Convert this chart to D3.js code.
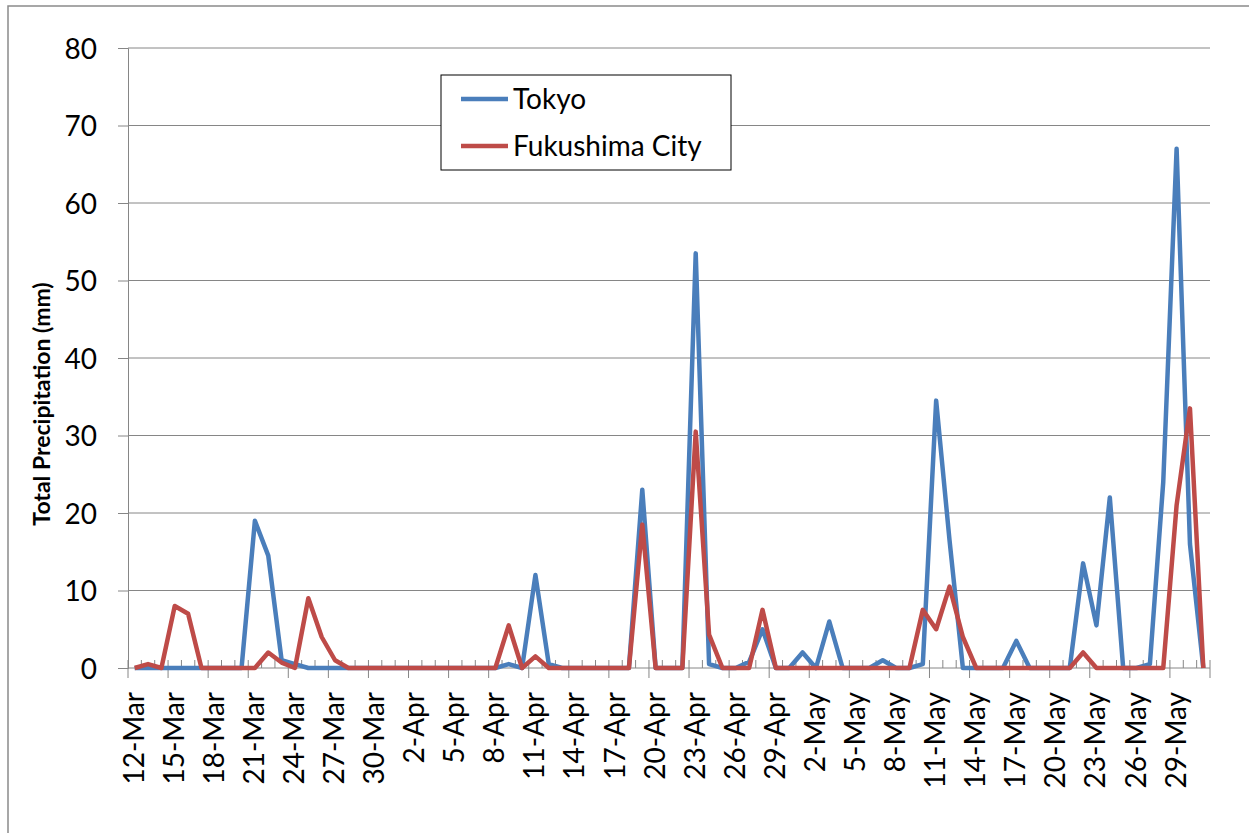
<!DOCTYPE html>
<html>
<head>
<meta charset="utf-8">
<script src="https://d3js.org/d3.v7.min.js"></script>
<style>
  html, body { margin: 0; padding: 0; background: #fff; }
  svg { display: block; }
</style>
</head>
<body>
<div id="chart"></div>
<script>
// Daily categories, 12-Mar to 31-May
const dates = [
  "12-Mar","13-Mar","14-Mar","15-Mar","16-Mar","17-Mar","18-Mar","19-Mar","20-Mar","21-Mar",
  "22-Mar","23-Mar","24-Mar","25-Mar","26-Mar","27-Mar","28-Mar","29-Mar","30-Mar","31-Mar",
  "1-Apr","2-Apr","3-Apr","4-Apr","5-Apr","6-Apr","7-Apr","8-Apr","9-Apr","10-Apr",
  "11-Apr","12-Apr","13-Apr","14-Apr","15-Apr","16-Apr","17-Apr","18-Apr","19-Apr","20-Apr",
  "21-Apr","22-Apr","23-Apr","24-Apr","25-Apr","26-Apr","27-Apr","28-Apr","29-Apr","30-Apr",
  "1-May","2-May","3-May","4-May","5-May","6-May","7-May","8-May","9-May","10-May",
  "11-May","12-May","13-May","14-May","15-May","16-May","17-May","18-May","19-May","20-May",
  "21-May","22-May","23-May","24-May","25-May","26-May","27-May","28-May","29-May","30-May",
  "31-May"
];

const tokyo = [
  0, 0, 0, 0, 0, 0, 0, 0, 0, 19,
  14.5, 1, 0.5, 0, 0, 0, 0, 0, 0, 0,
  0, 0, 0, 0, 0, 0, 0, 0, 0.5, 0,
  12, 0.5, 0, 0, 0, 0, 0, 0, 23, 0,
  0, 0, 53.5, 0.5, 0, 0, 0.8, 5, 0, 0,
  2, 0, 6, 0, 0, 0, 1, 0, 0, 0.5,
  34.5, 16.5, 0, 0, 0, 0, 3.5, 0, 0, 0,
  0, 13.5, 5.5, 22, 0, 0, 0.5, 24, 67, 16,
  0
];

const fukushima = [
  0, 0.5, 0, 8, 7, 0, 0, 0, 0, 0,
  2, 0.7, 0, 9, 4, 1, 0, 0, 0, 0,
  0, 0, 0, 0, 0, 0, 0, 0, 5.5, 0,
  1.5, 0, 0, 0, 0, 0, 0, 0, 18.5, 0,
  0, 0, 30.5, 4.3, 0, 0, 0, 7.5, 0, 0,
  0, 0, 0, 0, 0, 0, 0, 0, 0, 7.5,
  5, 10.5, 4, 0, 0, 0, 0, 0, 0, 0,
  0, 2, 0, 0, 0, 0, 0, 0, 21, 33.5,
  0
];

const yTicks = [0, 10, 20, 30, 40, 50, 60, 70, 80];
const xTickLabels = [
  "12-Mar","15-Mar","18-Mar","21-Mar","24-Mar","27-Mar","30-Mar",
  "2-Apr","5-Apr","8-Apr","11-Apr","14-Apr","17-Apr","20-Apr","23-Apr","26-Apr","29-Apr",
  "2-May","5-May","8-May","11-May","14-May","17-May","20-May","23-May","26-May","29-May"
];

const series = [
  { name: "Tokyo", values: tokyo, color: "#4A7EBB" },
  { name: "Fukushima City", values: fukushima, color: "#BE4B48" }
];

const W = 1249, H = 833;
const plot = { left: 128, right: 1210, top: 48, bottom: 668 };
const font = "Lato, 'Open Sans', sans-serif";
const gridColor = "#868686";

const svg = d3.select("#chart").append("svg")
  .attr("width", W)
  .attr("height", H);

svg.append("rect").attr("width", W).attr("height", H).attr("fill", "#fff");

// chart area border (runs off the right/bottom edge)
svg.append("rect")
  .attr("x", 8).attr("y", 6)
  .attr("width", W + 20).attr("height", H + 20)
  .attr("fill", "none")
  .attr("stroke", "#8a8a8a")
  .attr("stroke-width", 1.5);

const x = d3.scaleBand()
  .domain(dates)
  .range([plot.left, plot.right])
  .padding(0);

const y = d3.scaleLinear()
  .domain([0, 80])
  .range([plot.bottom, plot.top]);

const cx = d => x(d) + x.bandwidth() / 2;

// horizontal gridlines + y axis
const yAxis = svg.append("g")
  .attr("transform", `translate(${plot.left},0)`)
  .call(d3.axisLeft(y)
    .tickValues(yTicks)
    .tickSize(10)
    .tickPadding(21)
    .tickFormat(d3.format("d")));

yAxis.select(".domain").attr("stroke", gridColor);
yAxis.selectAll(".tick line").attr("stroke", gridColor);
yAxis.selectAll(".tick text")
  .style("font-family", font)
  .style("font-size", "28px")
  .attr("fill", "#000")
  .attr("dy", "0.36em");

svg.append("g")
  .selectAll("line")
  .data(yTicks.filter(v => v > 0))
  .enter()
  .append("line")
  .attr("x1", plot.left)
  .attr("x2", plot.right)
  .attr("y1", d => y(d))
  .attr("y2", d => y(d))
  .attr("stroke", gridColor)
  .attr("stroke-width", 1);

// x axis line and tick marks
const xg = svg.append("g");
xg.append("line")
  .attr("x1", plot.left).attr("x2", plot.right)
  .attr("y1", y(0)).attr("y2", y(0))
  .attr("stroke", gridColor);

const boundaries = d3.range(dates.length + 1);
xg.selectAll(".tk")
  .data(boundaries)
  .enter()
  .append("line")
  .attr("class", "tk")
  .attr("x1", i => plot.left + i * x.bandwidth())
  .attr("x2", i => plot.left + i * x.bandwidth())
  .attr("y1", y(0) - 8)
  .attr("y2", i => i % 3 === 0 ? y(0) + 10 : y(0))
  .attr("stroke", gridColor);

xg.selectAll(".xl")
  .data(xTickLabels)
  .enter()
  .append("text")
  .attr("class", "xl")
  .attr("transform", d => `translate(${cx(d) + 9},${y(0) + 24}) rotate(-90)`)
  .attr("text-anchor", "end")
  .style("font-family", font)
  .style("font-size", "28px")
  .attr("fill", "#000")
  .text(d => d);

// y axis title
svg.append("text")
  .attr("transform", "translate(50,404) rotate(-90)")
  .attr("text-anchor", "middle")
  .style("font-family", font)
  .style("font-size", "23px")
  .style("font-weight", "700")
  .attr("fill", "#000")
  .text("Total Precipitation (mm)");

// lines
const line = d3.line()
  .x((v, i) => cx(dates[i]))
  .y(v => y(v));

svg.append("g")
  .selectAll("path")
  .data(series)
  .enter()
  .append("path")
  .attr("d", s => line(s.values))
  .attr("fill", "none")
  .attr("stroke", s => s.color)
  .attr("stroke-width", 4.5)
  .attr("stroke-linejoin", "round");

// legend
const legend = svg.append("g").attr("transform", "translate(441,75)");
legend.append("rect")
  .attr("width", 290).attr("height", 95)
  .attr("fill", "#fff")
  .attr("stroke", "#000")
  .attr("stroke-width", 1);

const item = legend.selectAll(".item")
  .data(series)
  .enter()
  .append("g")
  .attr("class", "item")
  .attr("transform", (d, i) => `translate(0,${24 + i * 47})`);

item.append("line")
  .attr("x1", 20).attr("x2", 67)
  .attr("stroke", d => d.color)
  .attr("stroke-width", 4.5);

item.append("text")
  .attr("x", 72)
  .attr("y", 10)
  .style("font-family", font)
  .style("font-size", "28px")
  .attr("fill", "#000")
  .text(d => d.name);
</script>
</body>
</html>
